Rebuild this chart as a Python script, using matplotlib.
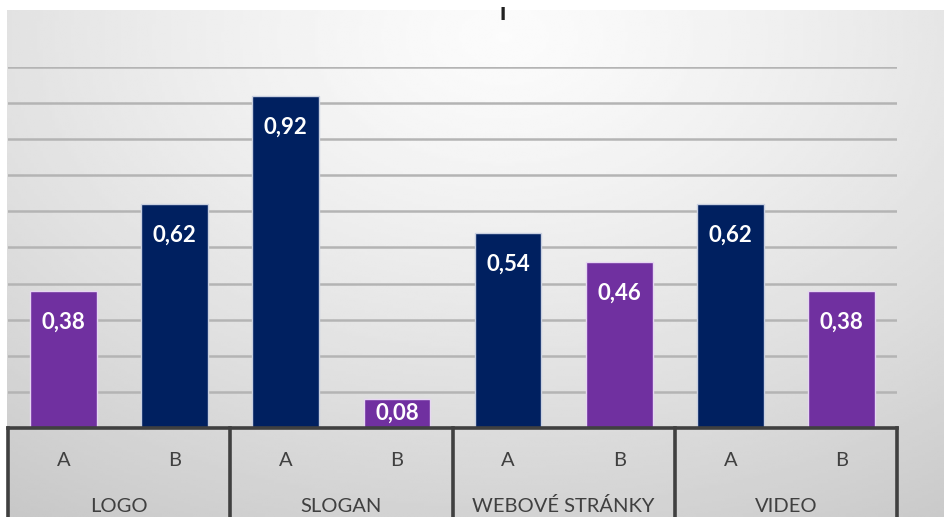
import matplotlib
matplotlib.use("Agg")
import matplotlib.pyplot as plt
import matplotlib.transforms as mtransforms
from matplotlib.lines import Line2D
import numpy as np

plt.rcParams['font.family'] = ['Lato', 'DejaVu Sans']

categories = ["LOGO", "SLOGAN", "WEBOVÉ STRÁNKY", "VIDEO"]
variants = ["A", "B"]
values = [0.38, 0.62, 0.92, 0.08, 0.54, 0.46, 0.62, 0.38]

NAVY = "#002060"
PURPLE = "#7030A0"
W, H = 945, 517

fig = plt.figure(figsize=(W / 100, H / 100), dpi=100)

# radial grey background, light near the top middle
bg = fig.add_axes([7 / W, 0, 1 - 7 / W, (H - 10) / H], zorder=-10)
gx, gy = np.meshgrid(np.linspace(0, 1, 300), np.linspace(0, 1, 200))
r = np.sqrt(((gx - 0.53) / 1.0) ** 2 + ((gy - 0.05) / 1.25) ** 2)
shade = 0.985 - 0.21 * np.clip(r / 0.95, 0, 1) ** 1.3
bg.imshow(shade, cmap="gray", vmin=0, vmax=1, aspect="auto",
          extent=[0, 1, 1, 0], interpolation="bilinear")
bg.axis("off")

# plot area: x 8..897 px, baseline at y=428, 1.0 at y=67
ax = fig.add_axes([8 / W, (H - 428) / H, 889 / W, 361 / H])
ax.patch.set_alpha(0)

x = np.arange(len(values))
colors = [NAVY if v >= 0.5 else PURPLE for v in values]
edges = ["#c9d0e0" if c == NAVY else "#e6d6f2" for c in colors]
ax.bar(x, values, width=0.6, color=colors, edgecolor=edges, linewidth=1, zorder=3)

for xi, v in zip(x, values):
    ty = max(v - 0.087, v * 0.5)
    ax.text(xi, ty, f"{v:.2f}".replace(".", ","), ha="center", va="center",
            color="white", fontsize=16, fontweight="bold", zorder=4)

ax.set_xlim(-0.5, len(values) - 0.5)
ax.set_ylim(0, 1.0)
ax.set_yticks(np.arange(0.1, 1.01, 0.1))
ax.yaxis.grid(True, color="#b4b4b4", linewidth=1.8, zorder=0)
ax.set_axisbelow(True)
ax.tick_params(left=False, bottom=False, labelleft=False, labelbottom=False)
for s in ["top", "right", "left"]:
    ax.spines[s].set_visible(False)
ax.spines["bottom"].set_color("#404040")
ax.spines["bottom"].set_linewidth(2.6)
ax.spines["bottom"].set_zorder(5)

# two-level category axis
trans = mtransforms.blended_transform_factory(ax.transData, fig.transFigure)
base = (H - 428) / H
for i in range(len(categories) + 1):
    xs = i * 2 - 0.5
    fig.add_artist(Line2D([xs, xs], [0, base], transform=trans,
                          color="#404040", linewidth=2.6, zorder=5))
for i, cat in enumerate(categories):
    for j, v in enumerate(variants):
        fig.text(i * 2 + j, (H - 461) / H, v, transform=trans, ha="center",
                 va="center", fontsize=14.5, color="#404040")
    fig.text(i * 2 + 0.5, (H - 506) / H, cat, transform=trans, ha="center",
             va="center", fontsize=14.5, color="#404040")

# cut-off title fragment at the top
fig.text(503 / W, (H - 13) / H, "ı", ha="center", va="center", fontsize=17,
         fontweight="black", color="#202020")

fig.savefig("out.png", dpi=100)
